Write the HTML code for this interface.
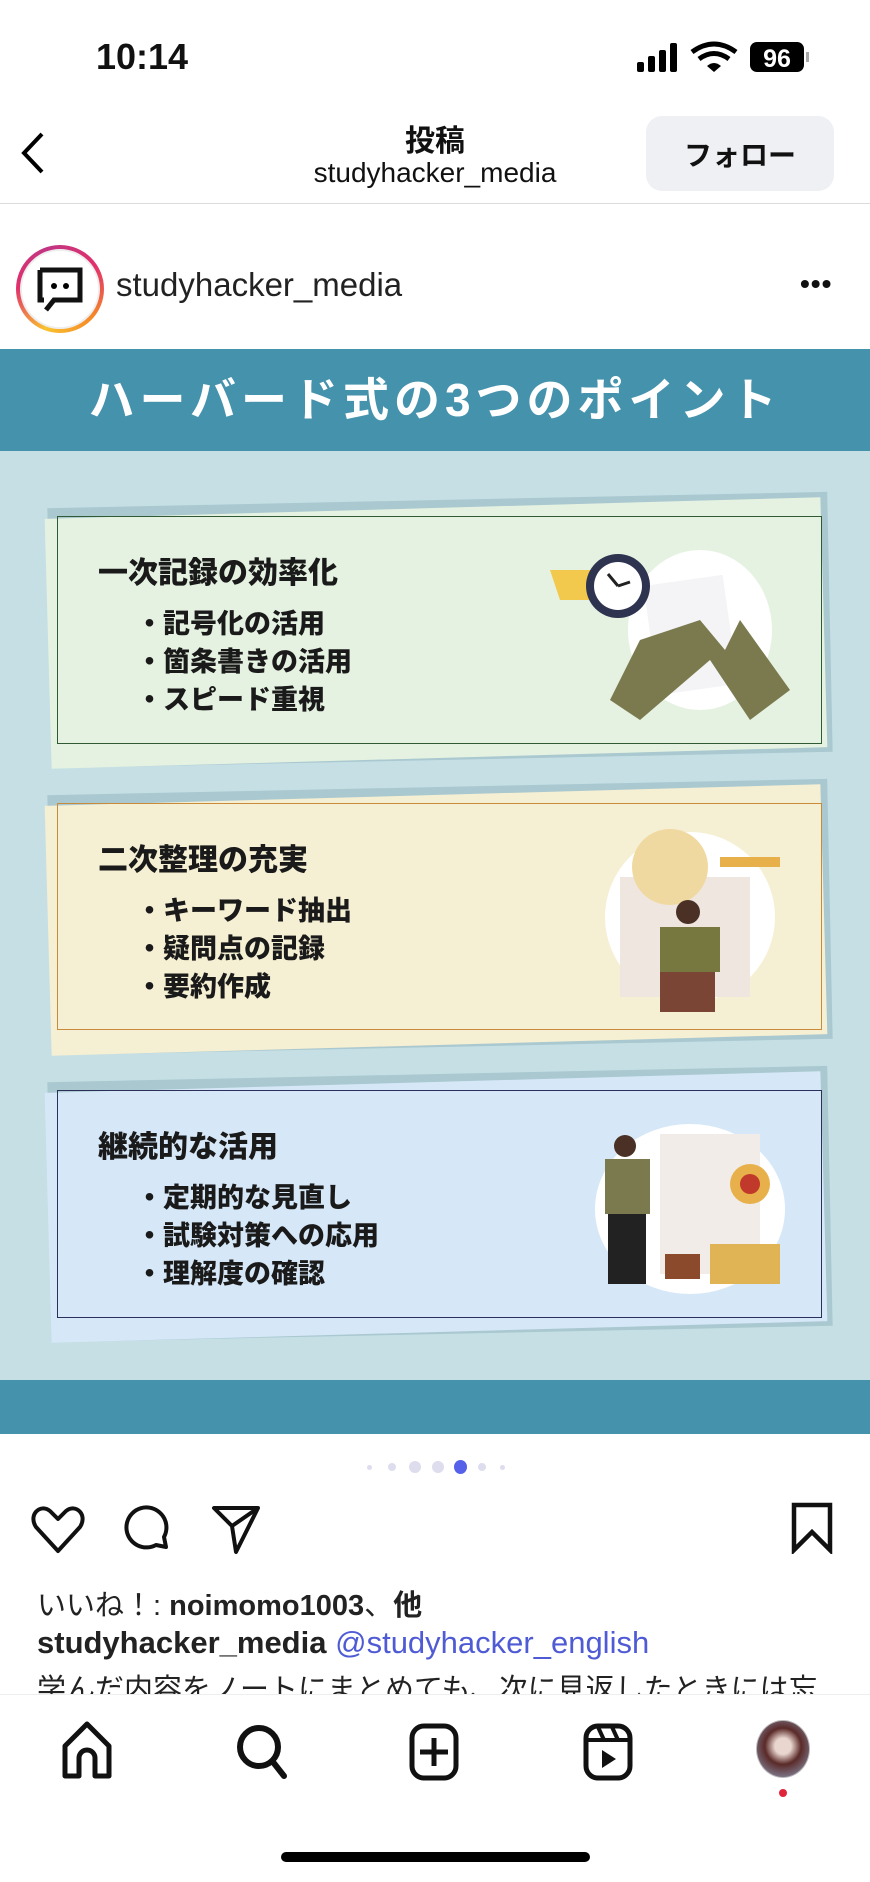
<!DOCTYPE html>
<html><head><meta charset="utf-8">
<style>
*{box-sizing:border-box;margin:0;padding:0}
body{width:870px;height:1882px;background:#fff;font-family:"Liberation Sans","Noto Sans CJK JP",sans-serif;position:relative;overflow:hidden;color:#111}
.abs{position:absolute}
.card-bg{position:absolute}
.ct{position:absolute;font-weight:900;font-size:30px;color:#1a1a1a;white-space:nowrap}
.cb{position:absolute;font-weight:900;font-size:27px;color:#1a1a1a;white-space:nowrap}
</style></head><body>
<div class="abs" style="left:96px;top:36px;font-size:36px;font-weight:700">10:14</div>
<svg class="abs" style="left:634px;top:40px" width="180" height="36">
<rect x="3" y="22" width="7" height="10" rx="2"/><rect x="14" y="16" width="7" height="16" rx="2"/><rect x="25" y="10" width="7" height="22" rx="2"/><rect x="36" y="3" width="7" height="29" rx="2"/>
<path d="M58 12 Q80 -4 102 12" stroke="#000" stroke-width="5" fill="none"/><path d="M65 19 Q80 8 95 19" stroke="#000" stroke-width="5" fill="none"/><path d="M73 26 L80 32 L87 26 Q80 20 73 26Z"/>
<rect x="116" y="2" width="54" height="30" rx="7"/><text x="143" y="27" fill="#fff" font-size="25" font-weight="700" text-anchor="middle" font-family="Liberation Sans">96</text><rect x="172" y="12" width="3" height="10" fill="#aaa"/>
</svg>
<svg class="abs" style="left:18px;top:130px" width="30" height="46"><path d="M24 4 L6 23 L24 42" stroke="#000" stroke-width="4" fill="none"/></svg>
<div class="abs" style="left:0;width:870px;top:116px;text-align:center;font-size:30px;font-weight:700">投稿</div>
<div class="abs" style="left:0;width:870px;top:157px;text-align:center;font-size:28px">studyhacker_media</div>
<div class="abs" style="left:646px;top:116px;width:188px;height:75px;border-radius:16px;background:#eff0f4;font-size:28px;font-weight:700;display:flex;align-items:center;justify-content:center">フォロー</div>
<div class="abs" style="left:0;top:203px;width:870px;height:1px;background:#dcdcdc"></div>
<div class="abs" style="left:16px;top:245px;width:88px;height:88px;border-radius:50%;background:conic-gradient(from 200deg,#f9c22e,#e1306c,#c13584,#e1306c,#f58529,#f9c22e)"></div>
<div class="abs" style="left:20px;top:249px;width:80px;height:80px;border-radius:50%;background:#fff;border:2px solid #eee"></div>
<svg class="abs" style="left:36px;top:266px" width="48" height="50"><path d="M4 4 H44 V34 H18 L10 44" stroke="#111" stroke-width="5" fill="none"/><path d="M4 4 V34 H8" stroke="#111" stroke-width="5" fill="none"/><circle cx="18" cy="20" r="3"/><circle cx="30" cy="20" r="3"/></svg>
<div class="abs" style="left:116px;top:266px;font-size:33px;color:#222">studyhacker_media</div>
<div class="abs" style="left:800px;top:268px;font-size:28px;font-weight:700;letter-spacing:1px">•••</div>

<div class="abs" style="left:0;top:349px;width:870px;height:1085px;background:#c5dfe5">
 <div class="abs" style="left:0;top:0;width:870px;height:102px;background:#4592ad;color:#fff;font-size:46px;font-weight:700;letter-spacing:5px;text-align:center;line-height:102px">ハーバード式の3つのポイント</div>
 <div class="abs" style="left:0;top:1031px;width:870px;height:54px;background:#4592ad"></div>
</div>

<div class="abs" style="left:0;top:490px;width:870px;height:290px">
 <div class="card-bg" style="left:50px;top:10px;width:780px;height:260px;background:#aac8d0;transform:rotate(-1.2deg)"></div>
 <div class="card-bg" style="left:48px;top:18px;width:776px;height:250px;background:#e5f2e1;transform:rotate(-1.6deg)"></div>
 <div class="card-bg" style="left:57px;top:26px;width:765px;height:228px;border:1.5px solid #2f5a33"></div>
 <div class="ct" style="left:98px;top:58px">一次記録の効率化</div>
 <div class="cb" style="left:136px;top:112px">・記号化の活用</div>
 <div class="cb" style="left:136px;top:150px">・箇条書きの活用</div>
 <div class="cb" style="left:136px;top:188px">・スピード重視</div>
 <svg class="abs" style="left:550px;top:40px" width="250" height="200">
  <ellipse cx="150" cy="100" rx="72" ry="80" fill="#fff"/>
  <rect x="100" y="50" width="80" height="110" fill="#f4f4f6" transform="rotate(-8 140 100)"/>
  <path d="M0 40 H50 L55 70 H10Z" fill="#f2c94c"/>
  <circle cx="68" cy="56" r="32" fill="#2e3350"/><circle cx="68" cy="56" r="24" fill="#fff"/><path d="M68 56 L58 44 M68 56 L80 52" stroke="#222" stroke-width="3"/>
  <path d="M90 110 L150 90 L175 120 L190 90 L240 160 L200 190 L160 130 L90 190 L60 170Z" fill="#7a7a4e"/>
 </svg>
</div>
<div class="abs" style="left:0;top:777px;width:870px;height:290px">
 <div class="card-bg" style="left:50px;top:10px;width:780px;height:260px;background:#aac8d0;transform:rotate(-1.2deg)"></div>
 <div class="card-bg" style="left:48px;top:18px;width:776px;height:250px;background:#f5efd3;transform:rotate(-1.6deg)"></div>
 <div class="card-bg" style="left:57px;top:26px;width:765px;height:227px;border:1.5px solid #c98a3a"></div>
 <div class="ct" style="left:98px;top:58px">二次整理の充実</div>
 <div class="cb" style="left:136px;top:112px">・キーワード抽出</div>
 <div class="cb" style="left:136px;top:150px">・疑問点の記録</div>
 <div class="cb" style="left:136px;top:188px">・要約作成</div>
 <svg class="abs" style="left:570px;top:40px" width="230" height="200">
  <ellipse cx="120" cy="100" rx="85" ry="85" fill="#fff"/>
  <rect x="50" y="60" width="130" height="120" fill="#efe6e0"/>
  <circle cx="100" cy="50" r="38" fill="#f0d9a0"/><rect x="150" y="40" width="60" height="10" fill="#e8b04a"/>
  <rect x="90" y="110" width="60" height="45" fill="#77783f"/><circle cx="118" cy="95" r="12" fill="#4a3025"/>
  <rect x="90" y="155" width="55" height="40" fill="#7a4534"/>
 </svg>
</div>
<div class="abs" style="left:0;top:1064px;width:870px;height:290px">
 <div class="card-bg" style="left:50px;top:10px;width:780px;height:260px;background:#aac8d0;transform:rotate(-1.2deg)"></div>
 <div class="card-bg" style="left:48px;top:18px;width:776px;height:250px;background:#d6e8f8;transform:rotate(-1.6deg)"></div>
 <div class="card-bg" style="left:57px;top:26px;width:765px;height:228px;border:1.5px solid #2b2f5a"></div>
 <div class="ct" style="left:98px;top:58px">継続的な活用</div>
 <div class="cb" style="left:136px;top:112px">・定期的な見直し</div>
 <div class="cb" style="left:136px;top:150px">・試験対策への応用</div>
 <div class="cb" style="left:136px;top:188px">・理解度の確認</div>
 <svg class="abs" style="left:570px;top:40px" width="230" height="200">
  <ellipse cx="120" cy="105" rx="95" ry="85" fill="#fff"/>
  <rect x="90" y="30" width="100" height="140" fill="#f1ece8"/>
  <circle cx="180" cy="80" r="20" fill="#e8b04a"/><circle cx="180" cy="80" r="10" fill="#c0392b"/>
  <rect x="35" y="55" width="45" height="55" fill="#7a7a4e"/><circle cx="55" cy="42" r="11" fill="#4a3025"/>
  <rect x="38" y="110" width="38" height="70" fill="#222"/>
  <rect x="95" y="150" width="35" height="25" fill="#8b4a2b"/><rect x="140" y="140" width="70" height="40" fill="#e0b354"/>
 </svg>
</div>

<div class="abs" style="left:365px;top:1457px;width:140px;height:20px">
 <span class="abs" style="left:2px;top:8px;width:5px;height:5px;border-radius:50%;background:#dde"></span>
 <span class="abs" style="left:23px;top:6px;width:8px;height:8px;border-radius:50%;background:#dde"></span>
 <span class="abs" style="left:44px;top:4px;width:12px;height:12px;border-radius:50%;background:#dde"></span>
 <span class="abs" style="left:67px;top:4px;width:12px;height:12px;border-radius:50%;background:#dde"></span>
 <span class="abs" style="left:89px;top:3px;width:13px;height:14px;border-radius:50%;background:#5461e8"></span>
 <span class="abs" style="left:113px;top:6px;width:8px;height:8px;border-radius:50%;background:#dde"></span>
 <span class="abs" style="left:135px;top:8px;width:5px;height:5px;border-radius:50%;background:#dde"></span>
</div>
<svg class="abs" style="left:30px;top:1505px" width="56" height="50"><path d="M28 46 L6 22 C-2 10 10 -2 20 6 L28 14 L36 6 C46 -2 58 10 50 22Z" stroke="#111" stroke-width="4" fill="none" stroke-linejoin="round"/></svg>
<svg class="abs" style="left:122px;top:1503px" width="50" height="52"><path d="M44 44 L42 34 A20 20 0 1 0 34 42 Z" stroke="#111" stroke-width="4" fill="none" stroke-linejoin="round"/></svg>
<svg class="abs" style="left:210px;top:1504px" width="52" height="52"><path d="M4 4 H48 L26 48 L22 22 Z M22 22 L48 4" stroke="#111" stroke-width="4" fill="none" stroke-linejoin="round"/></svg>
<svg class="abs" style="left:790px;top:1502px" width="44" height="52"><path d="M4 3 H40 V48 L22 30 L4 48 Z" stroke="#111" stroke-width="4.5" fill="none"/></svg>
<div class="abs" style="left:37px;top:1582px;font-size:29px;color:#222;white-space:nowrap">いいね！: <b>noimomo1003</b>、<b>他</b></div>
<div class="abs" style="left:37px;top:1625px;font-size:31px;color:#222;white-space:nowrap"><b>studyhacker_media</b> <span style="color:#4f5bd5">@studyhacker_english</span></div>
<div class="abs" style="left:37px;top:1666px;font-size:29px;color:#222;white-space:nowrap;height:29px;overflow:hidden">学んだ内容をノートにまとめても、次に見返したときには忘</div>
<div class="abs" style="left:0;top:1694px;width:870px;height:188px;background:#fff;border-top:1px solid #eee"></div>
<svg class="abs" style="left:60px;top:1720px" width="54" height="60"><path d="M5 56 V26 L27 4 L49 26 V56 H35 V38 A8 8 0 0 0 19 38 V56 Z" stroke="#111" stroke-width="5" fill="none" stroke-linejoin="round"/></svg>
<svg class="abs" style="left:234px;top:1722px" width="56" height="60"><circle cx="25" cy="25" r="19" stroke="#111" stroke-width="6" fill="none"/><path d="M39 40 L50 54" stroke="#111" stroke-width="6" stroke-linecap="round"/></svg>
<svg class="abs" style="left:408px;top:1722px" width="54" height="60"><rect x="4" y="4" width="44" height="52" rx="12" stroke="#111" stroke-width="5" fill="none"/><path d="M26 16 V44 M12 30 H40" stroke="#111" stroke-width="5"/></svg>
<svg class="abs" style="left:582px;top:1722px" width="54" height="60"><rect x="4" y="4" width="44" height="52" rx="12" stroke="#111" stroke-width="5" fill="none"/><path d="M4 18 H48 M16 5 L22 18 M30 5 L36 18" stroke="#111" stroke-width="4"/><path d="M20 28 L34 37 L20 46 Z" fill="#111"/></svg>
<div class="abs" style="left:756px;top:1720px;width:54px;height:58px;border-radius:50%;background:radial-gradient(circle at 50% 45%,#e9d6cf 20%,#5a2a28 45%,#7a6f80 75%);border:1px solid #bbb"></div>
<div class="abs" style="left:779px;top:1789px;width:8px;height:8px;border-radius:50%;background:#e0243a"></div>
<div class="abs" style="left:281px;top:1852px;width:309px;height:10px;border-radius:5px;background:#000"></div>
</body></html>
